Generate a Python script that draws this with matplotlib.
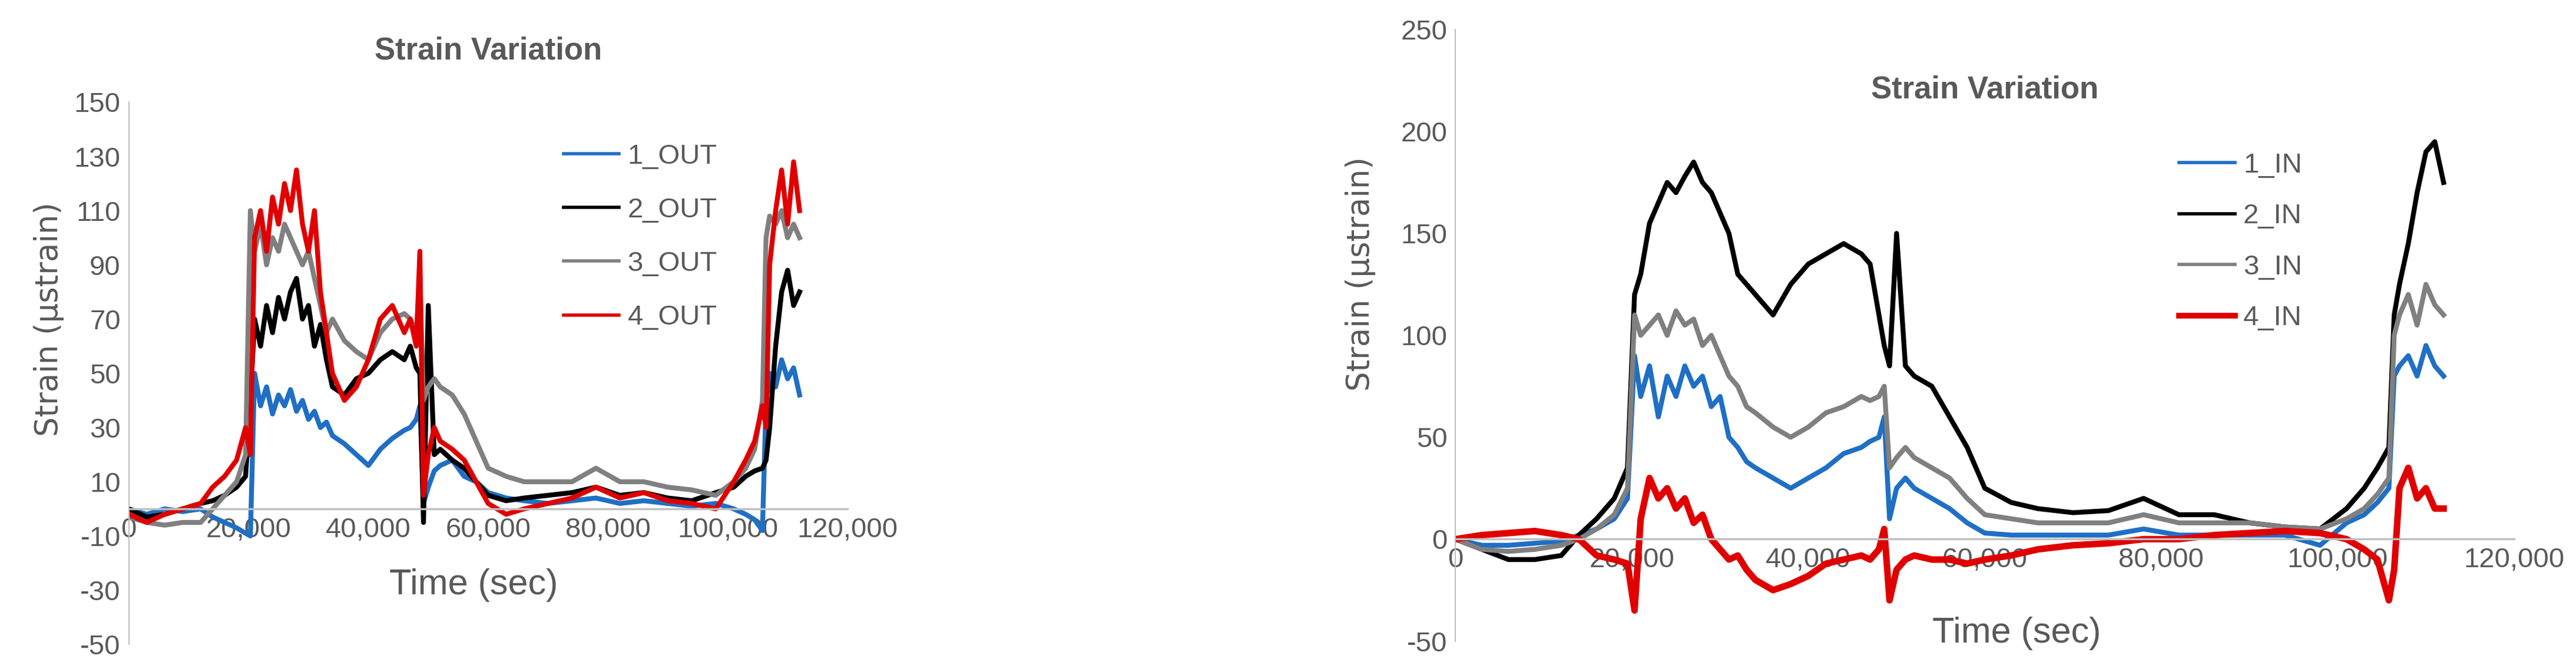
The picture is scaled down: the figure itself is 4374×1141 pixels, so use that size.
import matplotlib.pyplot as plt
from matplotlib.ticker import FuncFormatter

plt.rcParams["axes.unicode_minus"] = False

# shared time grid (s)
T = [0, 3000, 6000, 9000, 12000, 14000, 16000, 18000, 19500, 20300,
     21000, 22000, 23000, 24000, 25000, 26000, 27000, 28000, 29000, 30000,
     31000, 32000, 33000, 34000, 36000, 38000, 40000, 42000, 44000, 46000,
     47000, 48000, 48600, 49200, 50000, 51000, 52000, 54000, 56000, 58000,
     60000, 63000, 66000, 70000, 74000, 78000, 82000, 86000, 90000, 94000,
     98000, 101000, 103000, 104500, 105800, 106400, 107000, 108000, 109000, 110000,
     111000, 112000]

OUT_1 = [0, -2, 0, -1, 0, -3, -5, -7, -9, -10,
         50, 38, 45, 35, 42, 38, 44, 36, 40, 33,
         36, 30, 32, 27, 24, 20, 16, 22, 26, 29,
         30, 33, 38, 2, 8, 14, 16, 18, 12, 10,
         6, 4, 3, 2, 3, 4, 2, 3, 2, 1,
         2, 0, -2, -4, -8, 40, 50, 45, 55, 48,
         52, 42]
OUT_2 = [0, -3, -2, 0, 2, 3, 5, 8, 12, 40,
         70, 60, 75, 65, 78, 70, 80, 85, 70, 75,
         60, 68, 55, 45, 42, 48, 50, 55, 58, 55,
         60, 52, 50, -5, 75, 20, 22, 18, 15, 10,
         5, 3, 4, 5, 6, 8, 5, 6, 4, 3,
         6, 8, 12, 14, 15, 18, 30, 60, 80, 88,
         75, 80]
OUT_3 = [-3, -5, -6, -5, -5, 0, 5, 10, 20, 110,
         95, 105, 90, 100, 95, 105, 100, 95, 90, 95,
         85, 75, 65, 70, 62, 58, 55, 65, 70, 72,
         70, 65, 85, 40, 45, 48, 45, 42, 35, 25,
         15, 12, 10, 10, 10, 15, 10, 10, 8, 7,
         5, 10, 15, 22, 40, 100, 108, 105, 110, 100,
         105, 100]
OUT_4 = [-2, -5, -2, 0, 2, 8, 12, 18, 30, 20,
         100, 110, 95, 115, 105, 120, 110, 125, 105, 95,
         110, 80, 65, 50, 40, 45, 55, 70, 75, 65,
         70, 60, 95, 5, 20, 30, 25, 22, 18, 10,
         2, -2, 0, 2, 4, 8, 4, 6, 3, 2,
         0, 10, 18, 25, 38, 30, 90, 110, 125, 105,
         128, 110]

IN_1 = [0, -3, -3, -2, -1, 2, 5, 10, 20, 90,
        70, 85, 60, 80, 70, 85, 75, 80, 65, 70,
        50, 45, 38, 35, 30, 25, 30, 35, 42, 45,
        48, 50, 60, 10, 25, 30, 25, 20, 15, 8,
        3, 2, 2, 2, 2, 5, 2, 2, 2, 2,
        -3, 8, 12, 18, 25, 80, 85, 90, 80, 95,
        85, 80]
IN_2 = [0, -5, -10, -10, -8, 2, 10, 20, 35, 120,
        130, 155, 165, 175, 170, 178, 185, 175, 170, 160,
        150, 130, 125, 120, 110, 125, 135, 140, 145, 140,
        135, 110, 95, 85, 150, 85, 80, 75, 60, 45,
        25, 18, 15, 13, 14, 20, 12, 12, 8, 6,
        5, 15, 25, 35, 45, 110, 125, 145, 170, 190,
        195, 175]
IN_3 = [0, -5, -6, -5, -3, 0, 5, 12, 25, 110,
        100, 105, 110, 100, 112, 105, 108, 95, 100, 90,
        80, 75, 65, 62, 55, 50, 55, 62, 65, 70,
        68, 70, 75, 35, 40, 45, 40, 35, 30, 20,
        12, 10, 8, 8, 8, 12, 8, 8, 8, 6,
        5, 10, 15, 22, 30, 100, 110, 120, 105, 125,
        115, 110]
IN_4 = [0, 2, 3, 4, 2, 0, -8, -10, -12, -35,
        10, 30, 20, 25, 15, 20, 8, 12, 0, -5,
        -10, -8, -15, -20, -25, -22, -18, -12, -10, -8,
        -10, -5, 5, -30, -15, -10, -8, -10, -10, -12,
        -10, -8, -5, -3, -2, 0, 0, 2, 3, 4,
        3, 0, -5, -10, -30, -15, 25, 35, 20, 25,
        15, 15]

LABELS_OUT = ["1_OUT", "2_OUT", "3_OUT", "4_OUT"]
LABELS_IN = ["1_IN", "2_IN", "3_IN", "4_IN"]
COLORS = ["#1f6fc5", "#000000", "#808080", "#e00000"]

TICK_FONT = ["Liberation Sans Narrow", "Liberation Sans", "DejaVu Sans"]
GRID_GRAY = "#bfbfbf"
TEXT_GRAY = "#595959"


def style_axis(ax, yticks, title, title_y):
    ax.set_xlim(0, 120000)
    ax.set_ylim(yticks[0], yticks[-1])
    ax.set_yticks(yticks)
    ax.set_xticks(range(0, 120001, 20000))
    ax.xaxis.set_major_formatter(FuncFormatter(lambda v, p: f"{int(v):,}"))
    for s in ["top", "right"]:
        ax.spines[s].set_visible(False)
    ax.spines["bottom"].set_position(("data", 0))
    ax.spines["bottom"].set_color(GRID_GRAY)
    ax.spines["bottom"].set_linewidth(2.5)
    ax.spines["left"].set_color(GRID_GRAY)
    ax.spines["left"].set_linewidth(1.5)
    ax.tick_params(length=0, labelsize=34, labelcolor=TEXT_GRAY, pad=10)
    for lab in ax.get_xticklabels() + ax.get_yticklabels():
        lab.set_family(TICK_FONT)
    ax.set_xlabel("Time (sec)", fontsize=44, color=TEXT_GRAY, family=TICK_FONT)
    ax.set_ylabel("Strain (μstrain)", fontsize=38, color=TEXT_GRAY, family="DejaVu Sans")
    ax.set_title(title, fontsize=38, fontweight="bold", color=TEXT_GRAY,
                 family=TICK_FONT, y=title_y)
    ax.set_facecolor("none")


fig = plt.figure(figsize=(43.74, 11.41), dpi=100)

ax1 = fig.add_axes([0.050, 0.041, 0.279, 0.807])
for ys, lab, c in zip([OUT_1, OUT_2, OUT_3, OUT_4], LABELS_OUT, COLORS):
    ax1.plot(T, ys, color=c, lw=6, label=lab)
style_axis(ax1, list(range(-50, 151, 20)), "Strain Variation", 1.07)
ax1.xaxis.set_label_coords(0.48, 0.14)
ax1.yaxis.set_label_coords(-0.09, 0.6)
leg1 = ax1.legend(loc="upper left", bbox_to_anchor=(0.57, 0.97), frameon=False,
                  fontsize=34, handlelength=2.0, labelspacing=1.0, handletextpad=0.3)
for t in leg1.get_texts():
    t.set_color(TEXT_GRAY)
    t.set_family(TICK_FONT)
for h in leg1.get_lines():
    h.set_linewidth(4)

ax2 = fig.add_axes([0.565, 0.046, 0.411, 0.910])
for i, (ys, lab, c) in enumerate(zip([IN_1, IN_2, IN_3, IN_4], LABELS_IN, COLORS)):
    ax2.plot(T, ys, color=c, lw=8 if i == 3 else 6, label=lab)
style_axis(ax2, list(range(-50, 251, 50)), "Strain Variation", 0.88)
ax2.xaxis.set_label_coords(0.53, 0.04)
ax2.yaxis.set_label_coords(-0.075, 0.6)
leg2 = ax2.legend(loc="upper left", bbox_to_anchor=(0.66, 0.84), frameon=False,
                  fontsize=34, handlelength=2.0, labelspacing=0.9, handletextpad=0.3)
for t in leg2.get_texts():
    t.set_color(TEXT_GRAY)
    t.set_family(TICK_FONT)
for i, h in enumerate(leg2.get_lines()):
    h.set_linewidth(7 if i == 3 else 4)

fig.savefig("out.png", dpi=100, facecolor="white")
